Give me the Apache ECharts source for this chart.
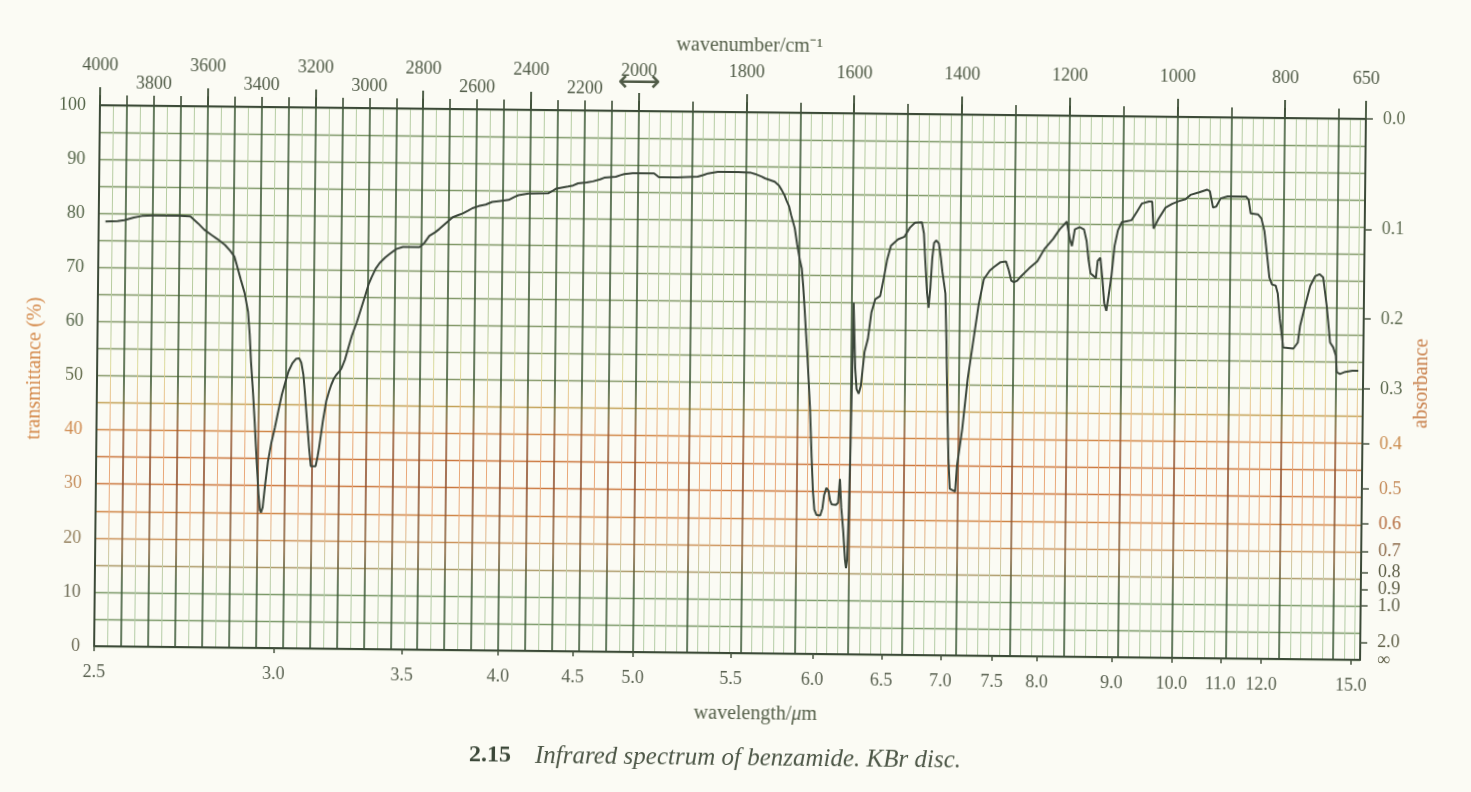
<!DOCTYPE html>
<html><head><meta charset="utf-8">
<script src="https://cdn.jsdelivr.net/npm/echarts@6/dist/echarts.min.js"></script>
<style>
html,body{margin:0;padding:0;background:#fbfbf4;overflow:hidden}
#chart{width:1471px;height:792px;transform:rotate(0.62deg);transform-origin:730px 383px}
</style></head><body><div id="chart"></div>
<script>
// ---- data: [wavenumber / cm-1, transmittance %] ----
const spectrum = [
[3975,78.5],[3930,78.6],[3905,78.8],[3870,79.3],[3840,79.6],[3800,79.7],[3700,79.7],[3660,79.6],[3630,78.3],[3608,77.2],[3580,76.2],[3559,75.5],[3530,74.4],[3510,73.3],[3495,72.3],[3486,70.8],[3470,68],[3455,65.5],[3442,62.1],[3435,58],[3429,52.9],[3420,47],[3413,41.8],[3404,34.5],[3396,28.5],[3390,25.5],[3386,25],[3380,26],[3372,30],[3362,34.5],[3350,38],[3338,40.7],[3325,44],[3313,46.9],[3300,49.3],[3289,51.2],[3275,52.7],[3262,53.5],[3250,53.6],[3242,52.8],[3234,50.6],[3228,47.5],[3222,43.9],[3215,40],[3210,37.1],[3203,33.7],[3185,33.7],[3178,35.5],[3173,37.1],[3160,42],[3148,45.8],[3138,47.6],[3130,48.8],[3120,50],[3112,50.6],[3100,51.3],[3093,51.8],[3080,53.5],[3069,55.5],[3055,58],[3038,60.4],[3022,63],[3008,65.3],
[2995,67.5],[2985,68.7],[2970,70.3],[2955,71.4],[2935,72.4],[2918,73.1],[2894,74.0],[2870,74.4],[2808,74.4],[2798,74.8],[2790,75.2],[2772,76.5],[2750,77.2],[2735,77.8],[2711,78.9],[2686,80.0],[2665,80.4],[2649,80.7],[2630,81.2],[2613,81.7],[2590,82.1],[2564,82.4],[2540,82.9],[2510,83.1],[2479,83.3],[2460,83.8],[2443,84.2],[2406,84.5],[2333,84.6],[2315,85.1],[2302,85.5],[2259,85.9],[2240,86.1],[2222,86.5],[2190,86.7],[2167,86.9],[2140,87.3],[2125,87.6],[2082,87.8],[2065,88.1],[2051,88.3],[2020,88.5],
[1995,88.5],[1970,88.5],[1961,87.8],[1927,87.8],[1889,88.0],[1878,88.3],[1870,88.6],[1852,88.9],[1814,88.9],[1790,88.8],[1783,88.6],[1770,88.1],[1764,87.8],[1746,87.2],[1738,86.5],[1733,85.7],[1728,84.8],[1724,83.8],
[1719,82.7],[1715,81.1],[1708,78.7],[1703,75.6],[1698,72.9],[1694,71.2],[1691,67.9],[1688,63.8],[1685,59.4],[1682,55.3],[1679,50.4],[1676,45.5],[1672,36.3],[1669,30.2],[1666,26.7],[1662,25.7],[1655,25.6],[1651,26.9],[1648,29.4],[1644,30.7],[1640,30.2],[1637,28.4],[1634,27.7],[1626,27.6],[1622,28],[1619,32.4],[1616,27.1],[1612,22.9],[1608,17.4],[1606,15.9],[1604,17.4],[1602,25.9],[1600,38.9],[1598,55.9],[1597,65],[1595,59],[1593,53],[1590,49],[1586,48.2],[1582,49.7],[1576,55.9],[1570,58.3],[1564,63.2],[1557,65.7],[1548,66.3],[1542,69.4],[1536,72.9],[1529,75.6],[1516,76.8],[1504,77.3],[1494,79],[1485,79.9],[1472,80],[1468,77.9],[1465,72.9],[1461,66.9],[1458,64.2],[1455,67.9],[1452,73.4],[1449,76.2],[1445,76.7],[1440,76.1],[1436,73.4],[1433,70.9],[1427,66.9],[1424,57.7],[1421,45.4],[1418,36.2],[1415,30.8],[1405,30.3],[1402,35.1],
[1393,41.9],[1384,51.1],[1374,58.4],[1365,64.9],[1356,69.6],[1345,71.2],[1337,71.9],[1325,72.8],[1315,72.9],[1310,71.4],[1305,69.4],[1300,69.1],[1294,69.4],[1287,70.2],[1272,71.7],[1257,73],[1244,75.3],[1228,77.2],[1216,79],[1203,80.4],[1200,80.5],[1197,77.1],[1193,75.9],[1188,79],[1179,79.4],[1171,79],[1166,76.9],[1162,73.4],[1158,70.9],[1152,70.4],[1148,70],[1145,73.2],[1140,73.8],[1136,70],[1132,65.4],[1128,64],[1124,66.8],[1119,70.6],[1114,76],[1108,78.9],[1101,80.4],
[1092,80.6],[1083,80.8],[1073,82.4],[1064,83.9],[1051,84.3],[1045,84.3],[1042,79.3],[1039,79.2],[1033,81.1],[1020,83.2],[1008,83.9],[996,84.4],[983,84.8],[974,85.6],[958,86.1],[943,86.6],[938,86.3],[932,83.3],[926,83.5],[918,85],[905,85.4],[871,85.4],[866,84.8],[862,82.3],[848,82.1],[842,81.4],[836,79],[830,74],[826,70.5],[821,69.2],[814,69.0],[810,67.5],[806,63],[802,60],[799,57.6],[780,57.4],[772,58.5],[768,61.6],[760,65],[750,69],[741,70.8],[733,71.2],[726,70.6],[719,65.4],[712,58.6],[706,57.7],[701,56.2],[699,53.1],[693,52.8],[683,53.2],[670,53.4],[659,53.4]
];
const wavelengthTicks = [2.5,3.0,3.5,4.0,4.5,5.0,5.5,6.0,6.5,7.0,7.5,8.0,9.0,10.0,11.0,12.0,15.0];
const wavenumberUpper = [4000,3600,3200,2800,2400,2000,1800,1600,1400,1200,1000,800,650];
const wavenumberLower = [3800,3400,3000,2600,2200];
const transmittanceTicks = [0,10,20,30,40,50,60,70,80,90,100];
const absorbanceLabels = ['0.0','0.1','0.2','0.3','0.4','0.5','0.6','0.7','0.8','0.9','1.0','2.0'];
const absorbanceTickT  = [100,79.6,63.0,50.1,39.9,31.6,25.1,20.1,16.2,13.0,10.0,3.2];
const infinityLabel = '∞';

// ---- chart-paper scale: linear in wavenumber, scale doubles below 2000 cm-1 ----
const U_MAX = 4700;
function toU(nu){ return nu >= 2000 ? 4000 - nu : 2000 + 2 * (2000 - nu); }
function fromU(u){ return u <= 2000 ? 4000 - u : 2000 - (u - 2000) / 2; }

const majorNu = []; for (let n = 4000; n >= 700; n -= 100) majorNu.push(n);
const minorNu = []; for (let n = 3950; n > 2000; n -= 100) minorNu.push(n);
for (let n = 1980; n > 650; n -= 20) if (n % 100) minorNu.push(n);
const hLines = []; for (let t = 0; t <= 100; t += 5) hLines.push(t);

const F = '"Liberation Serif","Times New Roman",serif';
const grad = s => ({type:'linear',x:0,y:0,x2:0,y2:792,global:true,
  colorStops:s.map(([o,c])=>({offset:o,color:c}))});
const darkV = grad([[0,'#3d5a38'],[0.49,'#3f5a36'],[0.52,'#6b6836'],[0.55,'#985a32'],[0.62,'#8e4e2c'],[0.70,'#8a6740'],[0.745,'#3d5a38'],[1,'#3d5a38']]);
const lightV = grad([[0,'#b4cca6'],[0.42,'#b8cc9e'],[0.47,'#dedc9e'],[0.52,'#ecbb88'],[0.57,'#e8a676'],[0.66,'#eaac7e'],[0.72,'#c6cea8'],[0.75,'#b4cca6'],[1,'#b4cca6']]);
const hCol = grad([[0,'#7a9868'],[0.49,'#86996a'],[0.515,'#c2a458'],[0.545,'#d28a4a'],[0.60,'#c8703a'],[0.66,'#d08848'],[0.71,'#c99a68'],[0.745,'#7a9868'],[1,'#7a9868']]);

function leftColor(v){ v=+v; if (v>=60) return '#56664a'; if (v>=50) return '#687050'; if (v>=40) return '#cf8a4e'; if (v>=30) return '#c58e5c'; if (v>=20) return '#94805e'; return '#6d6b55'; }
function rightColor(v){ v=+v; if (v>=48) return '#5d6a50'; if (v>=37) return '#c98a4c'; if (v>=28) return '#c48a58'; if (v>=22) return '#b46a3c'; if (v>=18) return '#8c6a4a'; return '#5e5e46'; }

const axisDark = {color:'#3c4a38', width:2};
const common = {type:'value', min:0, max:U_MAX, gridIndex:0};

const option = {
  backgroundColor:'transparent',
  animation:false,
  grid:{left:97, top:112, width:1266, height:541, containLabel:false, outerBoundsMode:'none'},
  title:[{
    text:'{b|2.15}{s|    }{i|Infrared spectrum of benzamide. KBr disc.}',
    left:719, top:758, textAlign:'center', textVerticalAlign:'middle', padding:0,
    textStyle:{fontWeight:'normal', rich:{
      b:{fontFamily:F, fontWeight:'bold', fontSize:24, color:'#3b4738'},
      s:{fontFamily:F, fontWeight:'normal', fontSize:24},
      i:{fontFamily:F, fontStyle:'italic', fontWeight:'normal', fontSize:25, color:'#4d5747'}}}
  }],
  xAxis:[
    Object.assign({}, common, { // bottom: wavelength scale
      position:'bottom',
      axisLine:{show:true,onZero:false,lineStyle:axisDark},
      axisTick:{show:true,inside:false,length:5,customValues:wavelengthTicks.map(w=>toU(1e4/w)),lineStyle:{color:'#4a5642',width:1.5}},
      axisLabel:{show:true,customValues:wavelengthTicks.map(w=>toU(1e4/w)),margin:17,showMinLabel:true,showMaxLabel:true,hideOverlap:false,
        formatter:v=>(1e4/fromU(v)).toFixed(1), color:'#596150', fontFamily:F, fontSize:18},
      splitLine:{show:false},
      name:'wavelength/{it|μ}m', nameLocation:'middle', nameGap:51, nameMoveOverlap:false,
      nameTextStyle:{fontFamily:F, fontSize:20, color:'#55604a', padding:[0,0,0,58],
        rich:{it:{fontFamily:F, fontStyle:'italic', fontSize:20, color:'#55604a'}}}
    }),
    Object.assign({}, common, { // top: 100 cm-1 grid, short ticks, lower label row
      position:'top',
      axisLine:{show:false,onZero:false},
      axisTick:{show:true,inside:false,length:10,customValues:majorNu.map(toU),lineStyle:{color:'#3f5038',width:1.6}},
      axisLabel:{show:true,customValues:wavenumberLower.concat([2000]).map(toU),margin:13,showMinLabel:true,showMaxLabel:true,hideOverlap:false,
        formatter:v=> Math.abs(v-2000)<1e-6 ? '{a|⟷}' : String(Math.round(fromU(v))),
        color:'#4f5a46', fontFamily:F, fontSize:18,
        rich:{a:{fontFamily:'DejaVu Sans', fontSize:30, color:'#4f5a46'}}},
      splitLine:{show:true,lineStyle:{color:darkV,width:1.6}}
    }),
    Object.assign({}, common, { // top: tall ticks, upper label row, border
      position:'top',
      axisLine:{show:true,onZero:false,lineStyle:axisDark},
      axisTick:{show:true,inside:false,length:18,customValues:wavenumberUpper.map(toU),lineStyle:{color:'#3f5038',width:1.8}},
      axisLabel:{show:true,customValues:wavenumberUpper.map(toU),margin:31,showMinLabel:true,showMaxLabel:true,hideOverlap:false,
        formatter:v=>String(Math.round(fromU(v))), color:'#4f5a46', fontFamily:F, fontSize:18},
      splitLine:{show:false},
      name:'wavenumber/cm⁻¹', nameLocation:'middle', nameGap:56, nameMoveOverlap:false,
      nameTextStyle:{fontFamily:F, fontSize:20, color:'#55604a', padding:[0,0,0,32]}
    }),
    Object.assign({}, common, { // minor vertical grid
      position:'bottom',
      axisLine:{show:false,onZero:false},
      axisTick:{show:false,customValues:minorNu.map(toU)},
      axisLabel:{show:false},
      splitLine:{show:true,lineStyle:{color:lightV,width:1}}
    })
  ],
  yAxis:[
    {type:'value', min:0, max:100, position:'left', gridIndex:0,
      axisLine:{show:true,onZero:false,lineStyle:axisDark},
      axisTick:{show:false,customValues:hLines},
      axisLabel:{show:true,customValues:transmittanceTicks,margin:14,showMinLabel:true,showMaxLabel:true,hideOverlap:false,
        color:leftColor, fontFamily:F, fontSize:18},
      splitLine:{show:true,lineStyle:{color:hCol,width:1.3}},
      name:'transmittance (%)', nameLocation:'middle', nameGap:52, nameMoveOverlap:false,
      nameTextStyle:{fontFamily:F, fontSize:20, color:'#d4894a', padding:[0,0,0,13]}
    },
    {type:'value', min:0, max:100, position:'right', gridIndex:0,
      axisLine:{show:true,onZero:false,lineStyle:axisDark},
      axisTick:{show:true,inside:false,length:7,customValues:absorbanceTickT,lineStyle:{color:'#4a5642',width:1.5}},
      axisLabel:{show:true,customValues:absorbanceTickT,margin:17,showMinLabel:true,showMaxLabel:true,hideOverlap:false,
        formatter:v=>{ const i=absorbanceTickT.findIndex(t=>Math.abs(t-v)<1e-6); return i>=0?absorbanceLabels[i]:''; },
        color:rightColor, fontFamily:F, fontSize:18},
      splitLine:{show:false},
      name:'absorbance', nameLocation:'middle', nameGap:49, nameMoveOverlap:false,
      nameTextStyle:{fontFamily:F, fontSize:20, color:'#c9824e', padding:[0,0,0,13]}
    },
    {type:'value', min:0, max:100, position:'right', gridIndex:0,
      axisLine:{show:false,onZero:false},
      axisTick:{show:false,customValues:[0]},
      axisLabel:{show:true,customValues:[0],margin:17,showMinLabel:true,showMaxLabel:true,hideOverlap:false,
        formatter:()=>infinityLabel, color:'#5e5e46', fontFamily:F, fontSize:18},
      splitLine:{show:false}
    }
  ],
  series:[{
    type:'line', xAxisIndex:0, yAxisIndex:0, showSymbol:false, symbol:'none', smooth:false,
    lineStyle:{color:'#3b463a', width:2}, z:5,
    data: spectrum.map(([nu,t])=>[toU(nu),t])
  }]
};
const chart = echarts.init(document.getElementById('chart'), null, {renderer:'canvas'});
chart.setOption(option);
</script></body></html>
